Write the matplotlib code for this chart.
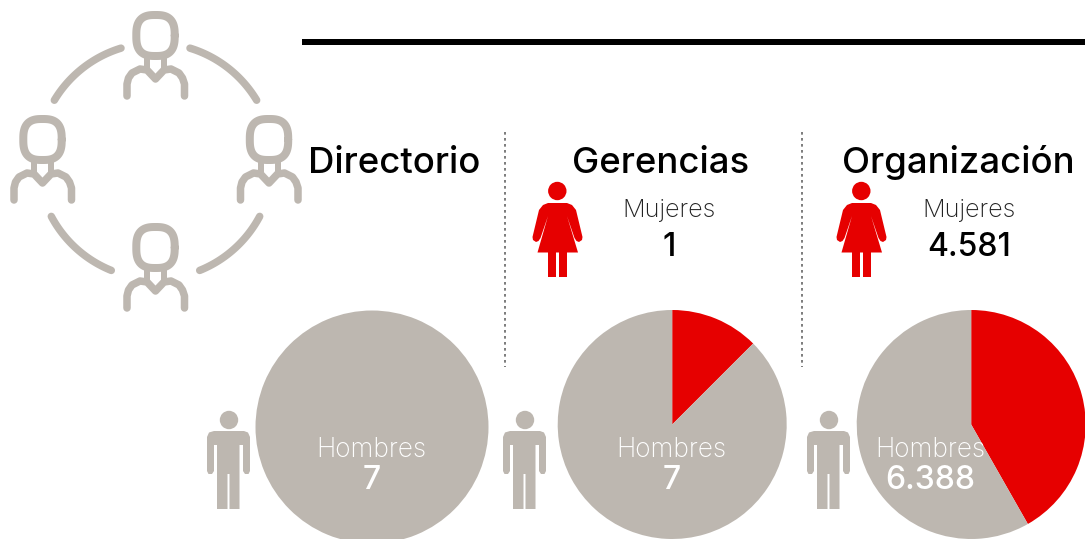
import matplotlib
matplotlib.use("Agg")
import matplotlib.pyplot as plt
import numpy as np
from matplotlib.patches import Circle, Polygon, Rectangle

# ---- data ----
categories = ["Directorio", "Gerencias", "Organización"]
mujeres = [0, 1, 4581]
hombres = [7, 7, 6388]
mujeres_labels = [None, "1", "4.581"]
hombres_labels = ["7", "7", "6.388"]

GREY = "#BDB7B0"
RED = "#E60000"
W, H = 1085, 539

fig = plt.figure(figsize=(W / 100, H / 100), dpi=100, facecolor="white")
bg = fig.add_axes([0, 0, 1, 1])
bg.set_xlim(0, W)
bg.set_ylim(H, 0)
bg.axis("off")
TF = ["Inter", "DejaVu Sans"]


def pie_axes(cx, cy, r):
    return fig.add_axes([(cx - r) / W, 1 - (cy + r) / H, 2 * r / W, 2 * r / H], zorder=1)


def line(xs, ys, lw=7, color=GREY, z=2):
    bg.plot(xs, ys, color=color, lw=lw * 0.72, solid_capstyle="round", solid_joinstyle="round", zorder=z)


def network_person(dx, dy):
    t = np.linspace(0, 2 * np.pi, 120)
    p = 0.72
    hx = 155.5 + 19.2 * np.sign(np.cos(t)) * np.abs(np.cos(t)) ** p
    hy = 35.5 + 20.5 * np.sign(np.sin(t)) * np.abs(np.sin(t)) ** p
    line(hx + dx, hy + dy, lw=8)
    line([147 + dx, 147 + dx], [56 + dy, 70 + dy], lw=6)
    line([164 + dx, 164 + dx], [56 + dy, 70 + dy], lw=6)
    xs = np.array([127, 127, 128.5, 132, 140, 147, 155.5, 164, 171, 179, 182.5, 184.5, 184.5])
    ys = np.array([96, 84, 78, 73, 69, 70, 79, 70, 69, 73, 78, 84, 96])
    line(xs + dx, ys + dy, lw=7.5)


for dx, dy in [(0, 0), (-113, 104), (113.5, 104), (0, 212)]:
    network_person(dx, dy)

# connecting arcs of the network icon
for a0, a1 in [(-107, -149), (-73, -31), (152, 112), (28, 68)]:
    t = np.radians(np.linspace(a0, a1, 40))
    line(155.5 + 118 * np.cos(t), 161 + 118 * np.sin(t), lw=7.5)

# header rule and dotted separators
bg.add_patch(Rectangle((302, 39), 783, 6, fc="black", ec="none"))
for x in (505, 802):
    bg.plot([x, x], [132, 367], color="#666666", lw=1.2, ls=(0, (1.6, 2.0)), zorder=1)


def woman(dx):
    c = RED
    bg.add_patch(Circle((557.3 + dx, 191), 9.2, fc=c, ec="none", zorder=3))
    body = [(548, 203), (567, 203), (572, 205), (576, 210), (582.5, 237), (582, 240), (579, 242),
            (576.5, 241), (574.5, 238), (567, 216), (578, 252.5), (567, 252.5), (567, 277), (559, 277),
            (559, 252.5), (556, 252.5), (556, 277), (548, 277), (548, 252.5), (537.5, 252.5), (548, 216),
            (540.5, 238), (538.5, 241), (536, 242), (533, 240), (532.5, 237), (539, 210), (543, 205)]
    bg.add_patch(Polygon([(x + dx, y) for x, y in body], closed=True, fc=c, ec="none", zorder=3))


def man(dx):
    c = GREY
    bg.add_patch(Circle((229 + dx, 420), 9.2, fc=c, ec="none", zorder=3))
    body = [(214, 431), (244, 431), (248, 432.5), (250, 437), (250, 471), (248.5, 474), (245, 474),
            (243, 471), (243, 445), (239.5, 445), (239.5, 509), (229.5, 509), (229.5, 474), (227.5, 474),
            (227.5, 509), (217, 509), (217, 445), (214, 445), (214, 471), (212, 474), (208.5, 474),
            (207, 471), (207, 437), (209, 432.5)]
    bg.add_patch(Polygon([(x + dx, y) for x, y in body], closed=True, fc=c, ec="none", zorder=3))


# ---- pies ----
centres = [(372, 427, 116.5), (672.2, 424.5, 114.5), (971.2, 424.5, 114.5)]
title_x = [394, 660.5, 958]
man_dx = [0, 296, 600]
woman_dx = [None, 0, 304]
muj_x = [None, 669, 969]
hom_x = [371.5, 671.5, 930.5]

for i, (cx, cy, r) in enumerate(centres):
    ax = pie_axes(cx, cy, r)
    ax.pie([mujeres[i], hombres[i]], colors=[RED, GREY], startangle=90, counterclock=False, radius=1,
           wedgeprops={"linewidth": 0})
    ax.set_xlim(-1, 1)
    ax.set_ylim(-1, 1)
    ax.set_aspect("equal")
    bg.text(title_x[i], 173, categories[i], ha="center", va="baseline", fontsize=26.3, family=TF,
            weight="medium", color="black", zorder=5)
    man(man_dx[i])
    if mujeres_labels[i] is not None:
        woman(woman_dx[i])
        bg.text(muj_x[i], 217.5, "Mujeres", ha="center", va="baseline", fontsize=18.2, family=TF,
                weight="light", color="#222222", zorder=5)
        bg.text(muj_x[i], 256, mujeres_labels[i], ha="center", va="baseline", fontsize=23, family=TF,
                weight="medium", color="black", zorder=5)

top = fig.add_axes([0, 0, 1, 1], zorder=5)
top.set_xlim(0, W)
top.set_ylim(H, 0)
top.axis("off")
for i in range(3):
    top.text(hom_x[i], 457, "Hombres", ha="center", va="baseline", fontsize=18.9, family=TF,
             weight="light", color="white")
    top.text(hom_x[i], 489, hombres_labels[i], ha="center", va="baseline", fontsize=23, family=TF,
             weight="medium", color="white")

fig.savefig("out.png", dpi=100, facecolor="white")
